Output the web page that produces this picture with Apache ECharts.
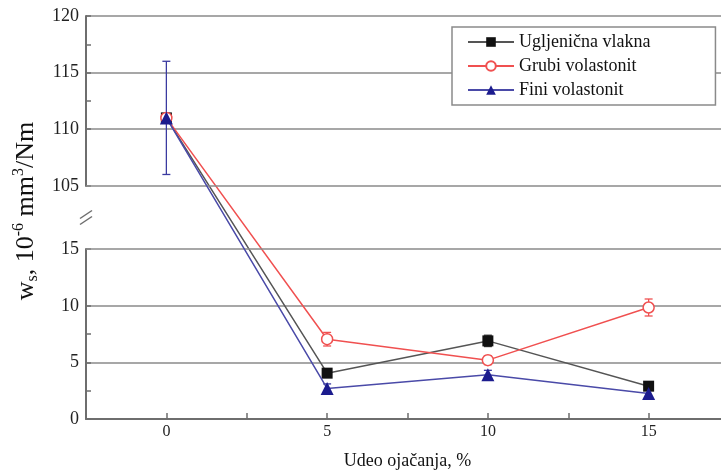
<!DOCTYPE html>
<html><head><meta charset="utf-8">
<script src="https://cdn.jsdelivr.net/npm/echarts@6/dist/echarts.min.js"></script>
<style>html,body{margin:0;padding:0;background:#fff}#c{width:721px;height:470px}</style>
</head><body><div id="c"></div>
<script>
// ---- data ----
const categories = [0, 5, 10, 15];
const seriesNames = ['Ugljenična vlakna', 'Grubi volastonit', 'Fini volastonit'];
const ugljenicna = [111, 4.05, 6.9, 2.9];
const ugljenicnaErr = [0.3, 0.3, 0.5, 0.3];
const grubi = [111, 7.05, 5.2, 9.85];
const grubiErr = [0.3, 0.6, 0.4, 0.75];
const fini = [111, 2.7, 3.9, 2.25];
const finiErr = [5, 0.4, 0.4, 0.4];
const xTickLabels = [0, 5, 10, 15];
const yTickLabels = [0, 5, 10, 15, 105, 110, 115, 120];
const yBreak = { start: 15, end: 105, gap: 5.6 };

const serif = 'Liberation Serif';
const pts = vals => categories.map((c, i) => [c, vals[i]]);
const gridLineStyle = { color: '#8a8a8a', width: 1.5 };

function errSeries(vals, errs, color, z, extra) {
  return Object.assign({
    type: 'custom', silent: true, z: z,
    data: categories.map((c, i) => [c, vals[i], errs[i]]),
    encode: { x: 0, y: 1 },
    renderItem(params, api) {
      const x = api.value(0), y = api.value(1), e = api.value(2);
      const t = api.coord([x, y + e]), b = api.coord([x, y - e]);
      const w = 4, st = { stroke: color, lineWidth: 1.3 };
      return { type: 'group', children: [
        { type: 'line', shape: { x1: t[0], y1: t[1], x2: b[0], y2: b[1] }, style: st },
        { type: 'line', shape: { x1: t[0] - w, y1: t[1], x2: t[0] + w, y2: t[1] }, style: st },
        { type: 'line', shape: { x1: b[0] - w, y1: b[1], x2: b[0] + w, y2: b[1] }, style: st }
      ]};
    }
  }, extra || {});
}

const chart = echarts.init(document.getElementById('c'), null, { renderer: 'canvas' });
const axisGray = '#6e6e6e';
chart.setOption({
  animation: false,
  backgroundColor: '#fff',
  grid: { left: 86, top: 16, width: 643, height: 403, outerBoundsMode: 'none', containLabel: false },
  legend: {
    data: seriesNames, orient: 'vertical', left: 452, top: 27,
    padding: [6, 65, 6, 15], itemGap: 6, itemWidth: 46, itemHeight: 12,
    backgroundColor: '#fff', borderColor: '#8a8a8a', borderWidth: 1.5,
    textStyle: { fontFamily: serif, fontSize: 18, color: '#111' }
  },
  xAxis: {
    type: 'value', min: -2.5, max: 17.5, interval: 2.5,
    axisLine: { show: true, onZero: false, lineStyle: { color: axisGray, width: 2 } },
    axisTick: { show: true, inside: true, length: 6, lineStyle: { color: axisGray, width: 1.5 } },
    axisLabel: { fontFamily: serif, fontSize: 16, color: '#222', margin: 5,
      formatter: v => (xTickLabels.includes(v) ? String(v) : '') },
    splitLine: { show: false },
    name: 'Udeo ojačanja, %', nameLocation: 'middle', nameGap: 33,
    nameTextStyle: { fontFamily: serif, fontSize: 18, color: '#111' }
  },
  yAxis: {
    type: 'value', min: 0, max: 120, interval: 5,
    breaks: [{ start: yBreak.start, end: yBreak.end, gap: yBreak.gap }],
    breakArea: { show: false },
    axisLine: { show: true, onZero: false, lineStyle: { color: axisGray, width: 2 } },
    axisTick: { show: true, inside: true, length: 5, lineStyle: { color: axisGray, width: 1.5 } },
    minorTick: { show: true, splitNumber: 2, length: 5, lineStyle: { color: axisGray, width: 1.5 } },
    axisLabel: { fontFamily: serif, fontSize: 18, color: '#222', margin: 7,
      formatter: v => (yTickLabels.includes(v) ? String(v) : '') },
    splitLine: { show: true, lineStyle: gridLineStyle },
    name: '{a|w}{sub|s}{a|, 10}{sup|-6}{a| mm}{sup|3}{a|/Nm}',
    nameLocation: 'middle', nameGap: 39, nameRotate: 90,
    nameTextStyle: {
      padding: [0, 0, 0, 13],
      rich: {
        a: { fontFamily: serif, fontSize: 26, color: '#111', lineHeight: 30, verticalAlign: 'middle' },
        sub: { fontFamily: serif, fontSize: 16, color: '#111', lineHeight: 16, verticalAlign: 'bottom' },
        sup: { fontFamily: serif, fontSize: 16, color: '#111', lineHeight: 16, verticalAlign: 'top' }
      }
    }
  },
  series: [
    { name: seriesNames[0], type: 'line', data: pts(ugljenicna), symbol: 'rect', symbolSize: 11,
      itemStyle: { color: '#111' }, lineStyle: { color: '#555', width: 1.5 }, z: 3 },
    { name: seriesNames[1], type: 'line', data: pts(grubi), symbol: 'circle', symbolSize: 11,
      itemStyle: { color: '#fff', borderColor: '#f05050', borderWidth: 1.5 }, lineStyle: { color: '#f05050', width: 1.5 }, z: 4 },
    { name: seriesNames[2], type: 'line', data: pts(fini), symbol: 'triangle', symbolSize: 13,
      itemStyle: { color: '#1c1c8e' }, lineStyle: { color: '#4a4aa8', width: 1.5 }, z: 5 },
    errSeries(ugljenicna, ugljenicnaErr, '#333', 2, {
      markLine: { silent: true, symbol: 'none', label: { show: false }, lineStyle: Object.assign({ type: 'solid' }, gridLineStyle),
        data: [{ yAxis: yBreak.start }, { yAxis: yBreak.end }] }
    }),
    errSeries(grubi, grubiErr, '#f05050', 2),
    errSeries(fini, finiErr, '#3a3aa0', 2)
  ]
});

// break marker on the y axis
const pA = chart.convertToPixel({ yAxisIndex: 0 }, yBreak.start);
const pB = chart.convertToPixel({ yAxisIndex: 0 }, yBreak.end);
const mid = (pA + pB) / 2, ax = chart.convertToPixel({ xAxisIndex: 0 }, -2.5);
chart.setOption({ graphic: [
  { type: 'rect', shape: { x: ax - 3, y: mid - 6, width: 6, height: 12 }, style: { fill: '#fff' }, z: 100 },
  { type: 'line', shape: { x1: ax - 6, y1: mid + 1, x2: ax + 6, y2: mid - 7 }, style: { stroke: axisGray, lineWidth: 1.5 }, z: 101 },
  { type: 'line', shape: { x1: ax - 6, y1: mid + 7, x2: ax + 6, y2: mid - 1 }, style: { stroke: axisGray, lineWidth: 1.5 }, z: 101 }
]});
</script>
</body></html>
